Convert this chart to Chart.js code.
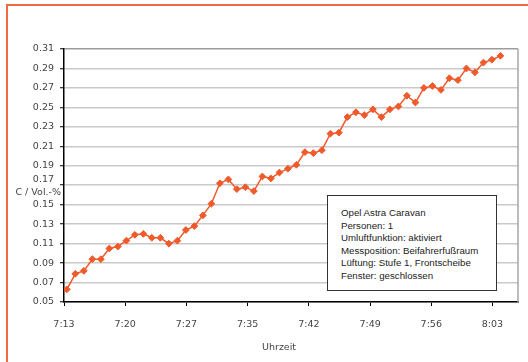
<!DOCTYPE html>
<html>
<head>
<meta charset="utf-8">
<script src="https://cdn.jsdelivr.net/npm/chart.js@4.4.1/dist/chart.umd.min.js"></script>
<style>
  html, body { margin: 0; padding: 0; background: #fff; overflow: hidden; }
  #wrap { position: relative; width: 528px; height: 362px; }
  #frame { position: absolute; left: 6px; top: 4px; width: 600px; height: 500px;
           border-left: 2px solid #f2693f; border-top: 2px solid #f2693f; }
  #myChart { position: absolute; left: 0; top: 0; }
  .lbl { position: absolute; font-family: "DejaVu Sans", sans-serif; font-size: 9.5px; color: #444; white-space: nowrap; }
  #ytitle { right: 467px; top: 186px; }
  #xtitle { left: 262px; top: 341px; }
  #info { position: absolute; left: 327px; top: 195px; width: 170px; height: 96px; box-sizing: border-box;
          border: 1px solid #333; background: #fff; padding: 11px 0 0 13px;
          font-family: "Liberation Sans", Arial, sans-serif; font-size: 9.7px; line-height: 12.6px; color: #222; }
</style>
</head>
<body>
<div id="wrap">
  <div id="frame"></div>
  <canvas id="myChart" width="528" height="362"></canvas>
  <div class="lbl" id="ytitle">C / Vol.-%</div>
  <div class="lbl" id="xtitle">Uhrzeit</div>
  <div id="info">
    Opel Astra Caravan<br>
    Personen: 1<br>
    Umluftfunktion: aktiviert<br>
    Messposition: Beifahrerfußraum<br>
    Lüftung: Stufe 1, Frontscheibe<br>
    Fenster: geschlossen
  </div>
</div>
<script>
// sample times (h:mm:ss)
var sampleTimes = [
  '7:13:20','7:14:20','7:15:20','7:16:20','7:17:20','7:18:20','7:19:20','7:20:20','7:21:20','7:22:20',
  '7:23:20','7:24:20','7:25:20','7:26:20','7:27:20','7:28:20','7:29:20','7:30:20','7:31:20','7:32:20',
  '7:33:20','7:34:20','7:35:20','7:36:20','7:37:20','7:38:20','7:39:20','7:40:20','7:41:20','7:42:20',
  '7:43:20','7:44:20','7:45:20','7:46:20','7:47:20','7:48:20','7:49:20','7:50:20','7:51:20','7:52:20',
  '7:53:20','7:54:20','7:55:20','7:56:20','7:57:20','7:58:20','7:59:20','8:00:20','8:01:20','8:02:20',
  '8:03:20','8:04:20'
];
// CO2 concentration, Vol.-%
var co2 = [
  0.063, 0.079, 0.082, 0.094, 0.094, 0.105, 0.107, 0.113, 0.119, 0.120,
  0.116, 0.116, 0.110, 0.113, 0.124, 0.128, 0.139, 0.151, 0.172, 0.176,
  0.166, 0.168, 0.164, 0.179, 0.177, 0.183, 0.187, 0.191, 0.204, 0.203,
  0.206, 0.223, 0.224, 0.240, 0.245, 0.242, 0.248, 0.240, 0.248, 0.251,
  0.262, 0.255, 0.270, 0.272, 0.268, 0.280, 0.278, 0.290, 0.286, 0.296,
  0.299, 0.303
];
var startTime = '7:13';
var xMaxMinutes = 53.4;
var xStepMinutes = 7.2;
var yMin = 0.05, yMax = 0.31, yStep = 0.02;

function toMinutes(t) {
  var p = t.split(':').map(Number);
  return p[0] * 60 + p[1] + (p[2] || 0) / 60;
}
var t0 = toMinutes(startTime);
function fmtTime(m) {
  var total = Math.round(t0 + m);
  var h = Math.floor(total / 60), mm = total % 60;
  return h + ':' + (mm < 10 ? '0' : '') + mm;
}

var points = sampleTimes.map(function (t, i) {
  return { x: toMinutes(t) - t0, y: co2[i] };
});

var frameLines = {
  id: 'frameLines',
  afterDatasetsDraw: function (chart) {
    var a = chart.chartArea, c = chart.ctx;
    c.save();
    c.strokeStyle = '#a6a6a6';
    c.lineWidth = 1.5;
    c.beginPath();
    c.moveTo(a.right, a.top);
    c.lineTo(a.right, a.bottom);
    c.stroke();
    c.restore();
  }
};

var ctx = document.getElementById('myChart').getContext('2d');
var myChart = new Chart(ctx, {
  type: 'line',
  data: {
    datasets: [{
      label: 'CO2',
      data: points,
      borderColor: 'rgb(240, 90, 42)',
      backgroundColor: 'rgb(240, 90, 42)',
      borderWidth: 1.5,
      pointStyle: 'rectRot',
      pointRadius: 3.4,
      pointBorderWidth: 1,
      tension: 0
    }]
  },
  options: {
    responsive: false,
    animation: false,
    layout: { padding: { left: 0, top: 49, right: 10, bottom: 0 } },
    plugins: {
      legend: { display: false },
      tooltip: { enabled: false }
    },
    scales: {
      x: {
        type: 'linear',
        min: 0,
        max: xMaxMinutes,
        afterFit: function (s) { s.height = 60; },
        border: { color: '#000', width: 1.5 },
        grid: { drawOnChartArea: false, tickLength: 4, tickColor: '#000', tickWidth: 1 },
        ticks: {
          stepSize: xStepMinutes,
          includeBounds: false,
          autoSkip: false,
          maxRotation: 0,
          padding: 13,
          color: '#444',
          font: { family: 'DejaVu Sans', size: 9.5 },
          callback: function (v) { return fmtTime(v); }
        }
      },
      y: {
        min: yMin,
        max: yMax,
        afterFit: function (s) { s.width = 64; },
        border: { color: '#000', width: 1.5 },
        grid: {
          lineWidth: 1.5,
          color: function (c) { return c.tick && Math.abs(c.tick.value - yMax) < 1e-6 ? '#9c9c9c' : '#c9c9c9'; },
          tickLength: 4,
          tickColor: '#000',
          tickWidth: 1
        },
        ticks: {
          stepSize: yStep,
          autoSkip: false,
          padding: 6,
          color: '#444',
          font: { family: 'DejaVu Sans', size: 9.5 },
          callback: function (v) {
            // the 0.17 label sits a little higher to leave room for the axis title
            return Math.abs(v - 0.17) < 1e-6 ? [v.toFixed(2), ''] : v.toFixed(2);
          }
        }
      }
    }
  },
  plugins: [frameLines]
});
</script>
</body>
</html>
